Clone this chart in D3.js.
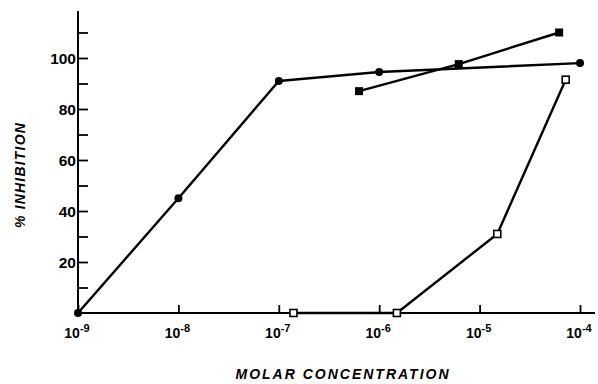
<!DOCTYPE html>
<html><head><meta charset="utf-8">
<script src="https://cdn.jsdelivr.net/npm/d3@7"></script>
<style>
html,body{margin:0;padding:0;background:#fff;}
svg{display:block;}
</style></head>
<body>
<svg id="chart" width="598" height="384"></svg>
<script>
// Data
const xTickExponents = [-9, -8, -7, -6, -5, -4];
const yTickValues = [10, 20, 30, 40, 50, 60, 70, 80, 90, 100, 110];
const yTickLabels = [20, 40, 60, 80, 100];
const circleConc = [1e-9, 1e-8, 1e-7, 1e-6, 1e-4];
const circleInhib = [0, 45, 91, 94.5, 98];
const filledSquareConc = [6.3e-7, 6.2e-6, 6.2e-5];
const filledSquareInhib = [87, 97.6, 110];
const openSquareConc = [1.4e-7, 1.5e-6, 1.5e-5, 7.2e-5];
const openSquareInhib = [0, 0, 31, 91.5];

const svg = d3.select("#chart");
const x = d3.scaleLog().domain([1e-9, 1e-4]).range([78, 580]);
const y = d3.scaleLinear().domain([0, 100]).range([313, 58]);
const yTop = y.invert(11);

// Axes
const yAxis = d3.axisLeft(y).tickValues(yTickValues).tickSize(-10).tickPadding(2)
  .tickFormat(d => yTickLabels.includes(d) ? d : "");
const gy = svg.append("g").attr("transform", `translate(${x(1e-9)},0)`).call(yAxis);
gy.select(".domain").remove();
gy.selectAll(".tick line").attr("stroke", "#000").attr("stroke-width", 1.8);
gy.selectAll(".tick text").attr("font-family", "Liberation Sans, Arial, sans-serif")
  .attr("font-weight", "bold").attr("font-size", 15.5).attr("fill", "#000").attr("dy", "0.36em");
svg.append("line").attr("x1", x(1e-9)).attr("x2", x(1e-9)).attr("y1", y(0)).attr("y2", y(yTop))
  .attr("stroke", "#000").attr("stroke-width", 2);

const xAxis = d3.axisBottom(x).tickValues(xTickExponents.map(e => Math.pow(10, e)))
  .tickSize(-8).tickFormat("");
const gx = svg.append("g").attr("transform", `translate(0,${y(0)})`).call(xAxis);
gx.select(".domain").remove();
gx.selectAll(".tick line").attr("stroke", "#000").attr("stroke-width", 1.8);
svg.append("line").attr("x1", x(1e-9)).attr("x2", 595).attr("y1", y(0)).attr("y2", y(0))
  .attr("stroke", "#000").attr("stroke-width", 2);

// x tick labels with superscripts
xTickExponents.forEach(e => {
  const t = svg.append("text").attr("x", x(Math.pow(10, e)) - 1).attr("y", 338)
    .attr("text-anchor", "middle")
    .attr("font-family", "Liberation Sans, Arial, sans-serif").attr("font-weight", "bold")
    .attr("fill", "#000");
  t.append("tspan").attr("font-size", 14).text("10");
  t.append("tspan").attr("font-size", 11).attr("dy", -6).text(e < 0 ? "-" + Math.abs(e) : e);
});

// axis titles
svg.append("text").attr("transform", `translate(25,175) rotate(-90)`)
  .attr("text-anchor", "middle").attr("font-family", "Liberation Sans, Arial, sans-serif")
  .attr("font-weight", "bold").attr("font-style", "italic").attr("font-size", 14)
  .attr("letter-spacing", 1.2).attr("fill", "#000").text("% INHIBITION");
svg.append("text").attr("x", 343).attr("y", 379)
  .attr("text-anchor", "middle").attr("font-family", "Liberation Sans, Arial, sans-serif")
  .attr("font-weight", "bold").attr("font-style", "italic").attr("font-size", 14)
  .attr("letter-spacing", 2).attr("fill", "#000").text("MOLAR CONCENTRATION");

// lines
const line = d3.line().x(d => x(d[0])).y(d => y(d[1]));
function series(conc, inh) { return conc.map((c, i) => [c, inh[i]]); }
const sCircle = series(circleConc, circleInhib);
const sFilled = series(filledSquareConc, filledSquareInhib);
const sOpen = series(openSquareConc, openSquareInhib);
[sCircle, sFilled, sOpen].forEach(s => {
  svg.append("path").datum(s).attr("d", line).attr("fill", "none")
    .attr("stroke", "#000").attr("stroke-width", 2.4).attr("stroke-linejoin", "round");
});

// markers
svg.selectAll(".circ").data(sCircle).enter().append("circle")
  .attr("cx", d => x(d[0])).attr("cy", d => y(d[1])).attr("r", 4).attr("fill", "#000");
svg.selectAll(".fsq").data(sFilled).enter().append("rect")
  .attr("x", d => x(d[0]) - 4).attr("y", d => y(d[1]) - 4).attr("width", 8).attr("height", 8)
  .attr("fill", "#000");
svg.selectAll(".osq").data(sOpen).enter().append("rect")
  .attr("x", d => x(d[0]) - 3.5).attr("y", d => y(d[1]) - 3.5).attr("width", 7).attr("height", 7)
  .attr("fill", "#fff").attr("stroke", "#000").attr("stroke-width", 1.6);
</script>
</body></html>
